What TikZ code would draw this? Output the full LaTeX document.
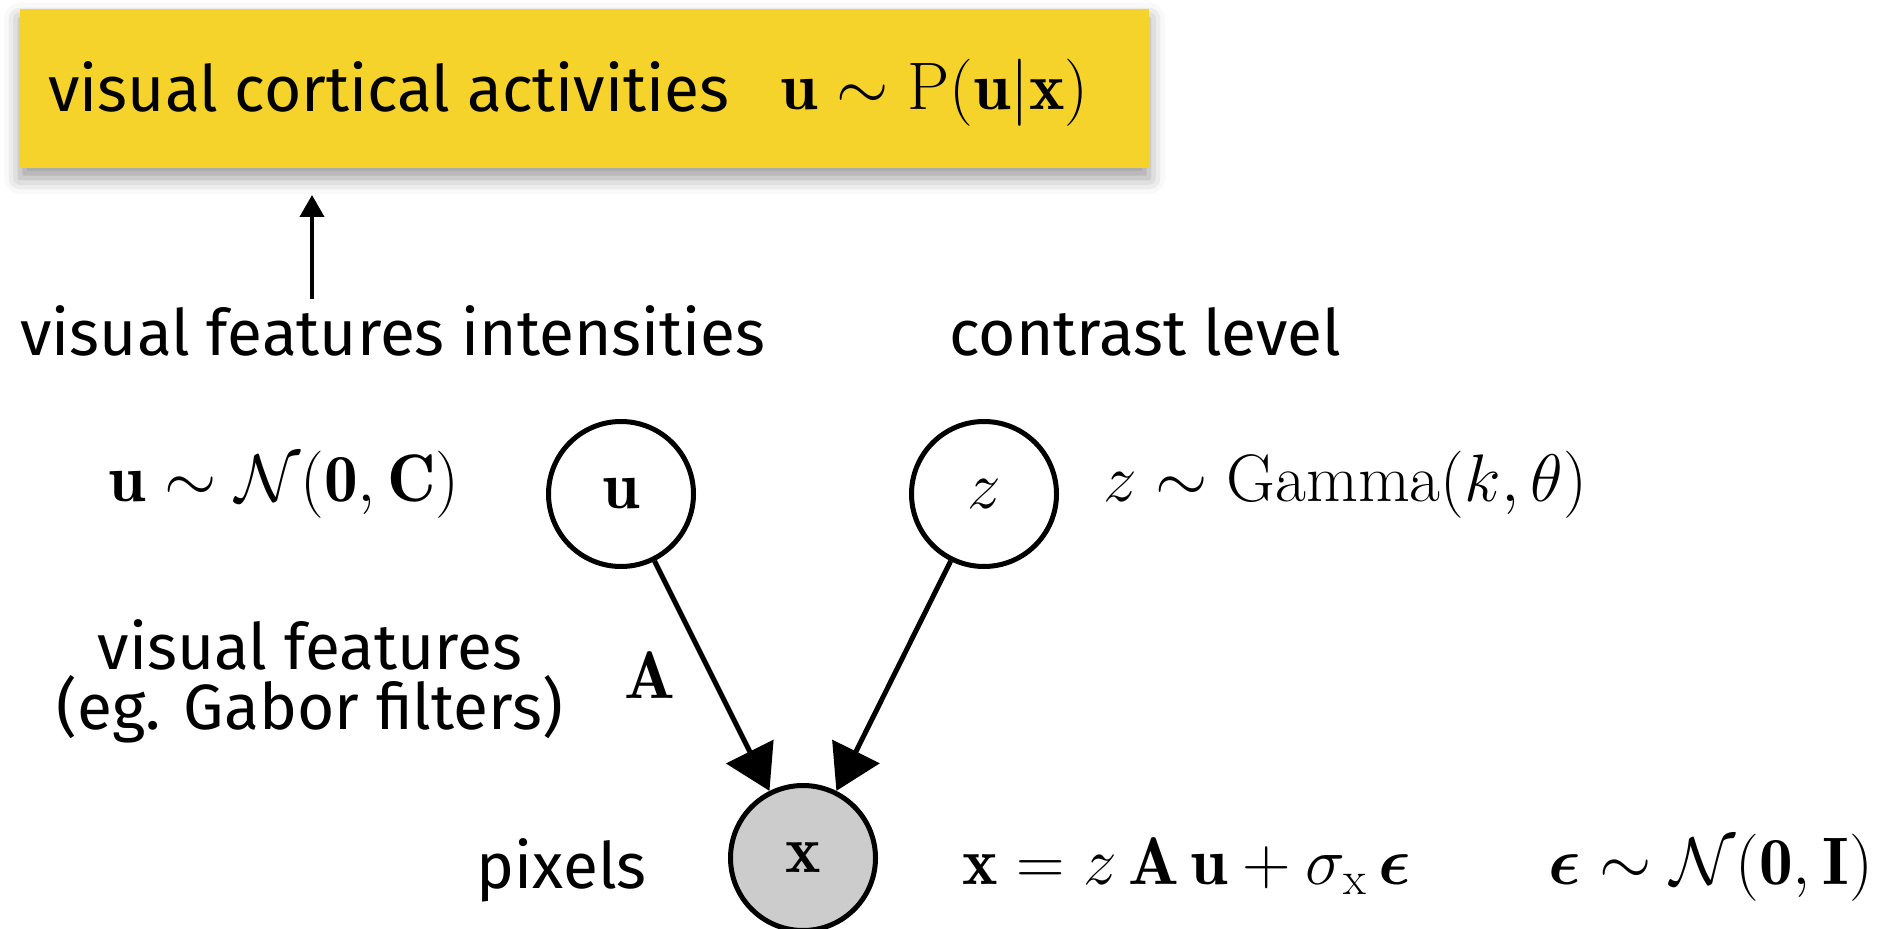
\documentclass[tikz,border=0pt]{standalone}
\usepackage{fix-cm}
\usepackage{amsmath,amssymb}
\usepackage{fontspec}
\setsansfont{Fira Sans}
\usetikzlibrary{arrows.meta,shadows.blur}
\definecolor{boxyellow}{HTML}{F5D32A}
\definecolor{nodegray}{HTML}{CCCCCC}
\begin{document}
\begin{tikzpicture}[x=0.5pt,y=-0.5pt,
  lab/.style={font=\sffamily\fontsize{32}{36}\selectfont, inner sep=0pt},
  mth/.style={font=\fontsize{33.6}{40}\selectfont, inner sep=0pt},
  var/.style={circle, draw, line width=2.5pt, minimum size=72.5pt, inner sep=0pt, font=\fontsize{33.6}{40}\selectfont},
  edgearrow/.style={line width=2.5pt, -{Triangle[length=22pt,width=26pt]}},
  uparrow/.style={line width=2pt, -{Triangle[length=11pt,width=12pt]}}]
\useasboundingbox (0,0) rectangle (1883,929);
% top box
\node[fill=boxyellow, minimum width=564.5pt, minimum height=79.5pt, inner sep=0pt,
  blur shadow={shadow xshift=0pt, shadow yshift=-5pt, shadow blur radius=8pt, shadow opacity=40}] (box) at (584.5,88.5) {};
\node[lab, anchor=base west] (t1) at (48,112) {visual cortical activities};
\node[mth, anchor=base west] (m1) at (780,110) {$\mathbf{u}\sim\mathrm{P}(\mathbf{u}|\mathbf{x})$};
% arrow
\coordinate (ab) at (312,299);
\coordinate (at) at (312,195);
\draw[uparrow] (ab) -- (at);
% labels
\node[lab, anchor=base west] (intens) at (20,356) {visual features intensities};
\node[lab, anchor=base west] (contrast) at (949,356) {contrast level};
\node[mth, anchor=base west] (nprior) at (108,502) {$\mathbf{u}\sim\mathcal{N}(\mathbf{0},\mathbf{C})$};
\node[mth, anchor=base west] (gprior) at (1103,502) {$z\sim\mathrm{Gamma}(k,\theta)$};
\node[lab, anchor=base] (feat1) at (310,669) {visual features};
\node[lab, anchor=base] (feat2) at (310,729) {(eg. Gabor filters)};
\node[mth, anchor=base west] (A) at (624,698) {$\mathbf{A}$};
\node[lab, anchor=base east] (pix) at (647,888) {pixels};
\node[mth, anchor=base west] (eq) at (962,884) {$\mathbf{x}=z\,\mathbf{A}\,\mathbf{u}+\sigma_\mathrm{x}\,\boldsymbol{\epsilon}$};
\node[mth, anchor=base west] (noise) at (1548,884) {$\boldsymbol{\epsilon}\sim\mathcal{N}(\mathbf{0},\mathbf{I})$};
% graph
\node[var] (u) at (621,494) {$\mathbf{u}$};
\node[var] (z) at (984,494) {$z$};
\node[var, fill=nodegray] (x) at (803,858) {$\mathbf{x}$};
\draw[edgearrow] (u) -- (x);
\draw[edgearrow] (z) -- (x);
\end{tikzpicture}
\end{document}
